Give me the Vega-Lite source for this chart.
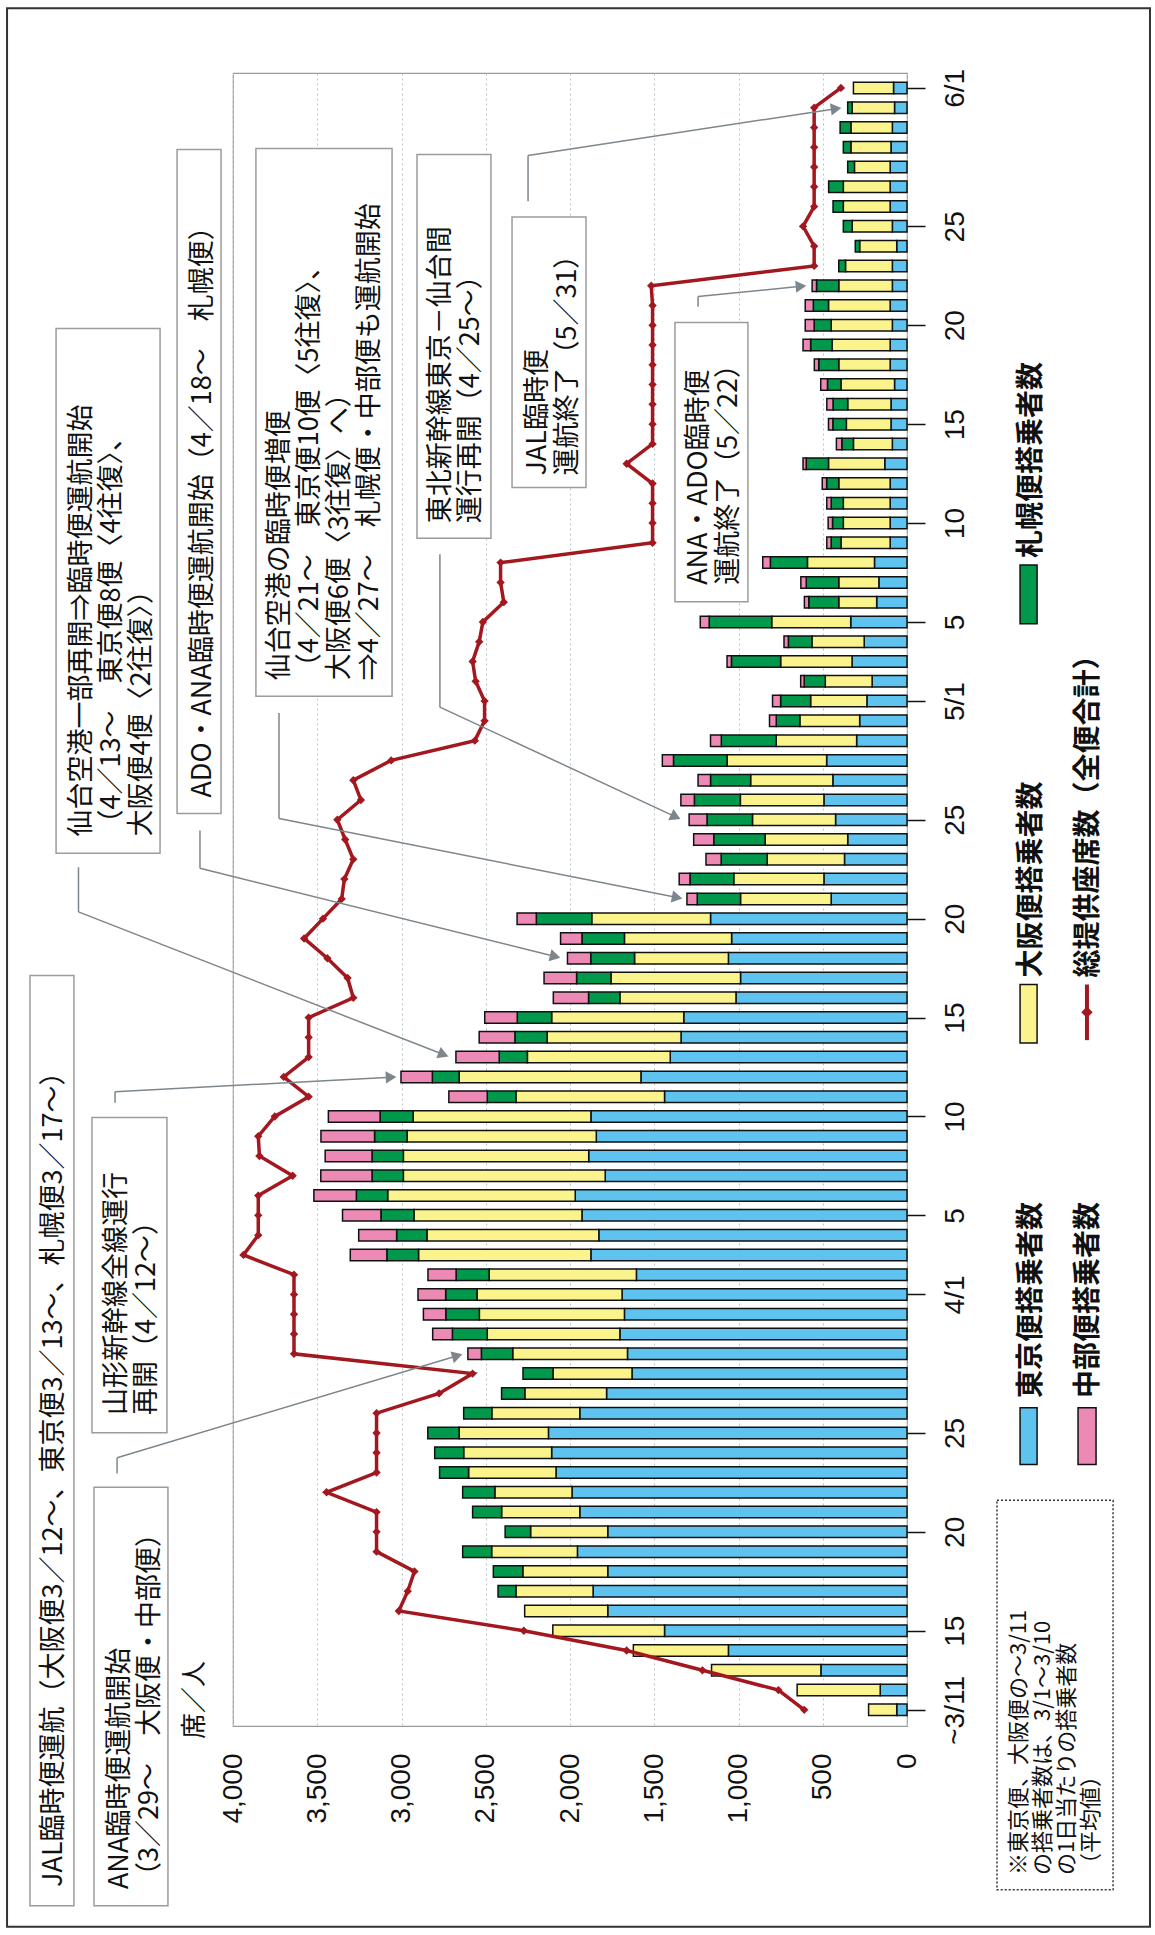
{
"$schema":"https://vega.github.io/schema/vega-lite/v6.json",
"width":674,"height":1653,"autosize":"none",
"padding":{"left":233,"top":73,"right":248,"bottom":209},
"background":"white",
"config":{"view":{"stroke":"#9a9a9a","strokeWidth":1.2}},
"resolve":{"axis":{"x":"independent","y":"independent"}},
"data":{"format":{"parse":{"date":"date:'%Y-%m-%d'"}},"values":[
{"date":"2011-03-11","tokyo":61,"osaka":167,"hokkaido":0,"chubu":0,"seats":610},
{"date":"2011-03-12","tokyo":159,"osaka":493,"hokkaido":0,"chubu":0,"seats":763},
{"date":"2011-03-13","tokyo":511,"osaka":649,"hokkaido":0,"chubu":0,"seats":1214},
{"date":"2011-03-14","tokyo":1060,"osaka":564,"hokkaido":0,"chubu":0,"seats":1664},
{"date":"2011-03-15","tokyo":1439,"osaka":663,"hokkaido":0,"chubu":0,"seats":2274},
{"date":"2011-03-16","tokyo":1776,"osaka":493,"hokkaido":0,"chubu":0,"seats":3016},
{"date":"2011-03-17","tokyo":1863,"osaka":458,"hokkaido":106,"chubu":0,"seats":2963},
{"date":"2011-03-18","tokyo":1776,"osaka":504,"hokkaido":175,"chubu":0,"seats":2923},
{"date":"2011-03-19","tokyo":1956,"osaka":509,"hokkaido":172,"chubu":0,"seats":3148},
{"date":"2011-03-20","tokyo":1776,"osaka":458,"hokkaido":151,"chubu":0,"seats":3148},
{"date":"2011-03-21","tokyo":1942,"osaka":464,"hokkaido":172,"chubu":0,"seats":3148},
{"date":"2011-03-22","tokyo":1988,"osaka":458,"hokkaido":191,"chubu":0,"seats":3445},
{"date":"2011-03-23","tokyo":2083,"osaka":519,"hokkaido":172,"chubu":0,"seats":3148},
{"date":"2011-03-24","tokyo":2109,"osaka":522,"hokkaido":172,"chubu":0,"seats":3148},
{"date":"2011-03-25","tokyo":2128,"osaka":530,"hokkaido":186,"chubu":0,"seats":3148},
{"date":"2011-03-26","tokyo":1942,"osaka":522,"hokkaido":167,"chubu":0,"seats":3148},
{"date":"2011-03-27","tokyo":1783,"osaka":485,"hokkaido":138,"chubu":0,"seats":2777},
{"date":"2011-03-28","tokyo":1632,"osaka":469,"hokkaido":178,"chubu":0,"seats":2578},
{"date":"2011-03-29","tokyo":1659,"osaka":681,"hokkaido":186,"chubu":80,"seats":3638},
{"date":"2011-03-30","tokyo":1704,"osaka":787,"hokkaido":207,"chubu":117,"seats":3638},
{"date":"2011-03-31","tokyo":1677,"osaka":861,"hokkaido":199,"chubu":133,"seats":3638},
{"date":"2011-04-01","tokyo":1691,"osaka":861,"hokkaido":186,"chubu":164,"seats":3638},
{"date":"2011-04-02","tokyo":1606,"osaka":874,"hokkaido":196,"chubu":167,"seats":3638},
{"date":"2011-04-03","tokyo":1876,"osaka":1023,"hokkaido":188,"chubu":217,"seats":3938},
{"date":"2011-04-04","tokyo":1829,"osaka":1020,"hokkaido":180,"chubu":225,"seats":3850},
{"date":"2011-04-05","tokyo":1929,"osaka":997,"hokkaido":196,"chubu":228,"seats":3850},
{"date":"2011-04-06","tokyo":1969,"osaka":1113,"hokkaido":186,"chubu":252,"seats":3850},
{"date":"2011-04-07","tokyo":1791,"osaka":1198,"hokkaido":186,"chubu":304,"seats":3646},
{"date":"2011-04-08","tokyo":1889,"osaka":1100,"hokkaido":186,"chubu":278,"seats":3843},
{"date":"2011-04-09","tokyo":1844,"osaka":1123,"hokkaido":193,"chubu":318,"seats":3850},
{"date":"2011-04-10","tokyo":1876,"osaka":1055,"hokkaido":196,"chubu":307,"seats":3752},
{"date":"2011-04-11","tokyo":1439,"osaka":882,"hokkaido":170,"chubu":228,"seats":3551},
{"date":"2011-04-12","tokyo":1579,"osaka":1079,"hokkaido":159,"chubu":186,"seats":3699},
{"date":"2011-04-13","tokyo":1405,"osaka":848,"hokkaido":167,"chubu":257,"seats":3551},
{"date":"2011-04-14","tokyo":1341,"osaka":795,"hokkaido":191,"chubu":212,"seats":3551},
{"date":"2011-04-15","tokyo":1325,"osaka":784,"hokkaido":204,"chubu":193,"seats":3551},
{"date":"2011-04-16","tokyo":1015,"osaka":689,"hokkaido":186,"chubu":209,"seats":3286},
{"date":"2011-04-17","tokyo":988,"osaka":769,"hokkaido":204,"chubu":193,"seats":3320},
{"date":"2011-04-18","tokyo":1060,"osaka":557,"hokkaido":260,"chubu":138,"seats":3440},
{"date":"2011-04-19","tokyo":1041,"osaka":636,"hokkaido":252,"chubu":127,"seats":3578},
{"date":"2011-04-20","tokyo":1166,"osaka":705,"hokkaido":329,"chubu":114,"seats":3466},
{"date":"2011-04-21","tokyo":450,"osaka":538,"hokkaido":257,"chubu":61,"seats":3355},
{"date":"2011-04-22","tokyo":493,"osaka":535,"hokkaido":260,"chubu":64,"seats":3339},
{"date":"2011-04-23","tokyo":371,"osaka":459,"hokkaido":273,"chubu":90,"seats":3286},
{"date":"2011-04-24","tokyo":352,"osaka":490,"hokkaido":305,"chubu":119,"seats":3334},
{"date":"2011-04-25","tokyo":424,"osaka":493,"hokkaido":270,"chubu":106,"seats":3381},
{"date":"2011-04-26","tokyo":493,"osaka":496,"hokkaido":273,"chubu":80,"seats":3241},
{"date":"2011-04-27","tokyo":440,"osaka":488,"hokkaido":238,"chubu":74,"seats":3286},
{"date":"2011-04-28","tokyo":477,"osaka":591,"hokkaido":318,"chubu":66,"seats":3061},
{"date":"2011-04-29","tokyo":299,"osaka":477,"hokkaido":326,"chubu":64,"seats":2565},
{"date":"2011-04-30","tokyo":281,"osaka":355,"hokkaido":140,"chubu":40,"seats":2507},
{"date":"2011-05-01","tokyo":238,"osaka":334,"hokkaido":178,"chubu":48,"seats":2507},
{"date":"2011-05-02","tokyo":207,"osaka":278,"hokkaido":125,"chubu":21,"seats":2560},
{"date":"2011-05-03","tokyo":326,"osaka":424,"hokkaido":292,"chubu":26,"seats":2578},
{"date":"2011-05-04","tokyo":254,"osaka":310,"hokkaido":140,"chubu":26,"seats":2539},
{"date":"2011-05-05","tokyo":334,"osaka":469,"hokkaido":371,"chubu":53,"seats":2517},
{"date":"2011-05-06","tokyo":180,"osaka":225,"hokkaido":178,"chubu":26,"seats":2393},
{"date":"2011-05-07","tokyo":167,"osaka":238,"hokkaido":193,"chubu":32,"seats":2412},
{"date":"2011-05-08","tokyo":193,"osaka":398,"hokkaido":220,"chubu":45,"seats":2412},
{"date":"2011-05-09","tokyo":100,"osaka":292,"hokkaido":58,"chubu":26,"seats":1510},
{"date":"2011-05-10","tokyo":100,"osaka":278,"hokkaido":64,"chubu":26,"seats":1510},
{"date":"2011-05-11","tokyo":100,"osaka":278,"hokkaido":72,"chubu":26,"seats":1510},
{"date":"2011-05-12","tokyo":100,"osaka":305,"hokkaido":72,"chubu":26,"seats":1510},
{"date":"2011-05-13","tokyo":132,"osaka":334,"hokkaido":132,"chubu":19,"seats":1664},
{"date":"2011-05-14","tokyo":87,"osaka":231,"hokkaido":69,"chubu":32,"seats":1510},
{"date":"2011-05-15","tokyo":95,"osaka":265,"hokkaido":80,"chubu":26,"seats":1510},
{"date":"2011-05-16","tokyo":95,"osaka":257,"hokkaido":87,"chubu":37,"seats":1510},
{"date":"2011-05-17","tokyo":74,"osaka":318,"hokkaido":80,"chubu":40,"seats":1510},
{"date":"2011-05-18","tokyo":100,"osaka":305,"hokkaido":119,"chubu":26,"seats":1510},
{"date":"2011-05-19","tokyo":100,"osaka":345,"hokkaido":127,"chubu":45,"seats":1510},
{"date":"2011-05-20","tokyo":87,"osaka":363,"hokkaido":101,"chubu":53,"seats":1510},
{"date":"2011-05-21","tokyo":100,"osaka":366,"hokkaido":90,"chubu":48,"seats":1510},
{"date":"2011-05-22","tokyo":87,"osaka":318,"hokkaido":132,"chubu":26,"seats":1518},
{"date":"2011-05-23","tokyo":87,"osaka":278,"hokkaido":40,"chubu":0,"seats":551},
{"date":"2011-05-24","tokyo":61,"osaka":220,"hokkaido":26,"chubu":0,"seats":551},
{"date":"2011-05-25","tokyo":87,"osaka":238,"hokkaido":53,"chubu":0,"seats":617},
{"date":"2011-05-26","tokyo":100,"osaka":278,"hokkaido":61,"chubu":0,"seats":551},
{"date":"2011-05-27","tokyo":100,"osaka":278,"hokkaido":87,"chubu":0,"seats":551},
{"date":"2011-05-28","tokyo":100,"osaka":212,"hokkaido":40,"chubu":0,"seats":551},
{"date":"2011-05-29","tokyo":95,"osaka":238,"hokkaido":45,"chubu":0,"seats":551},
{"date":"2011-05-30","tokyo":87,"osaka":246,"hokkaido":64,"chubu":0,"seats":551},
{"date":"2011-05-31","tokyo":74,"osaka":252,"hokkaido":26,"chubu":0,"seats":551},
{"date":"2011-06-01","tokyo":80,"osaka":238,"hokkaido":0,"chubu":0,"seats":392}
]},
"layer":[
{"transform":[{"fold":["tokyo","osaka","hokkaido","chubu"],"as":["route","passengers"]},{"filter":"datum.passengers > 0"}],
 "mark":{"type":"bar","orient":"horizontal","height":11.5,"stroke":"#111111","strokeWidth":1.5},
 "encoding":{
  "y":{"field":"date","type":"temporal","title":null,
   "scale":{"domain":[{"year":2011,"month":3,"date":10,"hours":10,"minutes":30},{"year":2011,"month":6,"date":1,"hours":12}],"nice":false},
   "axis":{"orient":"right","title":null,"grid":false,"domain":false,
    "values":[{"year":2011,"month":3,"date":11},{"year":2011,"month":3,"date":15},{"year":2011,"month":3,"date":20},{"year":2011,"month":3,"date":25},{"year":2011,"month":4,"date":1},{"year":2011,"month":4,"date":5},{"year":2011,"month":4,"date":10},{"year":2011,"month":4,"date":15},{"year":2011,"month":4,"date":20},{"year":2011,"month":4,"date":25},{"year":2011,"month":5,"date":1},{"year":2011,"month":5,"date":5},{"year":2011,"month":5,"date":10},{"year":2011,"month":5,"date":15},{"year":2011,"month":5,"date":20},{"year":2011,"month":5,"date":25},{"year":2011,"month":6,"date":1}],
    "labelExpr":"month(datum.value)==2 && date(datum.value)==11 ? '~3/11' : (date(datum.value)==1 ? (month(datum.value)+1)+'/1' : ''+date(datum.value))",
    "labelAngle":270,"labelAlign":"center","labelBaseline":"top","labelFont":"Liberation Sans","labelFontSize":28,"labelColor":"#111111","labelPadding":16,
    "ticks":true,"tickSize":18,"tickColor":"#111111","tickWidth":1.5,"labelOverlap":false,"labelBound":false,"labelFlush":false}},
  "x":{"field":"passengers","type":"quantitative","title":null,"stack":"zero",
   "scale":{"domain":[0,4000],"reverse":true,"nice":false,"zero":true},
   "axis":{"title":null,"values":[0,500,1000,1500,2000,2500,3000,3500,4000],"format":",d","labelAngle":270,"labelAlign":"right","labelBaseline":"middle","labelFont":"Liberation Sans","labelFontSize":28,"labelColor":"#111111","labelPadding":27,"ticks":false,"tickSize":0,"domain":false,"grid":true,"gridColor":"#b8c4cc","gridDash":[2,3],"gridWidth":1,"labelFlush":false,"labelOverlap":false,"labelBound":false}},
  "color":{"field":"route","type":"nominal","scale":{"domain":["tokyo","osaka","hokkaido","chubu"],"range":["#5ec3ef","#fbf48c","#00984a","#ec8ab5"]},"legend":null},
  "order":{"field":"route","sort":"descending"}
 }},
{"mark":{"type":"line","color":"#a3171f","strokeWidth":3.5,"point":{"shape":"diamond","size":70,"filled":true,"color":"#a3171f"}},
 "encoding":{"y":{"field":"date","type":"temporal","axis":null},"x":{"field":"seats","type":"quantitative","axis":null},"order":{"field":"date","type":"temporal"}}},

{"data":{"values":[{}]},"mark":{"type":"rect","fill":"white","fillOpacity":0,"stroke":"#333333","strokeWidth":2},"encoding":{"x":{"datum":5341,"type":"quantitative","axis":null},"x2":{"datum":-1442},"y":{"datum":{"year":2011,"month":6,"date":5,"hours":0,"minutes":29},"type":"temporal","axis":null},"y2":{"datum":{"year":2011,"month":2,"date":28,"hours":0,"minutes":58}}}},

{"data":{"values":[{}]},"mark":{"type":"rect","fill":"white","stroke":"#9c9c9c","strokeWidth":1.5},"encoding":{"x":{"datum":5050,"type":"quantitative","axis":null},"x2":{"datum":4433},"y":{"datum":{"year":2011,"month":5,"date":19,"hours":20,"minutes":12},"type":"temporal","axis":null},"y2":{"datum":{"year":2011,"month":4,"date":23,"hours":7,"minutes":24}}}},
{"data":{"values":[{}]},"mark":{"type":"rect","fill":"white","stroke":"#9c9c9c","strokeWidth":1.5},"encoding":{"x":{"datum":4332,"type":"quantitative","axis":null},"x2":{"datum":4071},"y":{"datum":{"year":2011,"month":5,"date":28,"hours":21,"minutes":12},"type":"temporal","axis":null},"y2":{"datum":{"year":2011,"month":4,"date":25,"hours":7,"minutes":36}}}},
{"data":{"values":[{}]},"mark":{"type":"rect","fill":"white","stroke":"#9c9c9c","strokeWidth":1.5},"encoding":{"x":{"datum":3864,"type":"quantitative","axis":null},"x2":{"datum":3056},"y":{"datum":{"year":2011,"month":5,"date":28,"hours":22,"minutes":24},"type":"temporal","axis":null},"y2":{"datum":{"year":2011,"month":5,"date":1,"hours":6,"minutes":0}}}},
{"data":{"values":[{}]},"mark":{"type":"rect","fill":"white","stroke":"#9c9c9c","strokeWidth":1.5},"encoding":{"x":{"datum":2908,"type":"quantitative","axis":null},"x2":{"datum":2469},"y":{"datum":{"year":2011,"month":5,"date":28,"hours":15,"minutes":12},"type":"temporal","axis":null},"y2":{"datum":{"year":2011,"month":5,"date":9,"hours":5,"minutes":42}}}},
{"data":{"values":[{}]},"mark":{"type":"rect","fill":"white","stroke":"#9c9c9c","strokeWidth":1.5},"encoding":{"x":{"datum":2344,"type":"quantitative","axis":null},"x2":{"datum":1905},"y":{"datum":{"year":2011,"month":5,"date":25,"hours":11,"minutes":12},"type":"temporal","axis":null},"y2":{"datum":{"year":2011,"month":5,"date":11,"hours":19,"minutes":12}}}},
{"data":{"values":[{}]},"mark":{"type":"rect","fill":"white","stroke":"#9c9c9c","strokeWidth":1.5},"encoding":{"x":{"datum":1377,"type":"quantitative","axis":null},"x2":{"datum":944},"y":{"datum":{"year":2011,"month":5,"date":20,"hours":3,"minutes":24},"type":"temporal","axis":null},"y2":{"datum":{"year":2011,"month":5,"date":6,"hours":0,"minutes":30}}}},
{"data":{"values":[{}]},"mark":{"type":"rect","fill":"white","stroke":"#9c9c9c","strokeWidth":1.5},"encoding":{"x":{"datum":5205,"type":"quantitative","axis":null},"x2":{"datum":4944},"y":{"datum":{"year":2011,"month":4,"date":17,"hours":3,"minutes":6},"type":"temporal","axis":null},"y2":{"datum":{"year":2011,"month":3,"date":1,"hours":2,"minutes":12}}}},
{"data":{"values":[{}]},"mark":{"type":"rect","fill":"white","stroke":"#9c9c9c","strokeWidth":1.5},"encoding":{"x":{"datum":4837,"type":"quantitative","axis":null},"x2":{"datum":4392},"y":{"datum":{"year":2011,"month":4,"date":9,"hours":22,"minutes":36},"type":"temporal","axis":null},"y2":{"datum":{"year":2011,"month":3,"date":25,"hours":0,"minutes":12}}}},
{"data":{"values":[{}]},"mark":{"type":"rect","fill":"white","stroke":"#9c9c9c","strokeWidth":1.5},"encoding":{"x":{"datum":4825,"type":"quantitative","axis":null},"x2":{"datum":4386},"y":{"datum":{"year":2011,"month":3,"date":22,"hours":6,"minutes":0},"type":"temporal","axis":null},"y2":{"datum":{"year":2011,"month":3,"date":1,"hours":2,"minutes":12}}}},
{"data":{"values":[{}]},"mark":{"type":"rect","fill":"white","fillOpacity":0,"stroke":"#333333","strokeWidth":1.5,"strokeDash":[2,2]},"encoding":{"x":{"datum":-534,"type":"quantitative","axis":null},"x2":{"datum":-1223},"y":{"datum":{"year":2011,"month":3,"date":21,"hours":14,"minutes":12},"type":"temporal","axis":null},"y2":{"datum":{"year":2011,"month":3,"date":1,"hours":21,"minutes":36}}}},

{"data":{"values":[{}]},"mark":{"type":"text","angle":270,"align":"left","baseline":"top","font":"Noto Sans CJK JP","fontSize":27,"lineHeight":30,"color":"#111111"},"encoding":{"x":{"datum":4974,"type":"quantitative","axis":null},"y":{"datum":{"year":2011,"month":4,"date":24,"hours":3,"minutes":48},"type":"temporal","axis":null},"text":{"value":["仙台空港一部再開⇒臨時便運航開始","（4／13〜　東京便8便〈4往復〉、","　大阪便4便〈2往復〉）"]}}},
{"data":{"values":[{}]},"mark":{"type":"text","angle":270,"align":"left","baseline":"middle","font":"Noto Sans CJK JP","fontSize":27,"color":"#111111"},"encoding":{"x":{"datum":4177,"type":"quantitative","axis":null},"y":{"datum":{"year":2011,"month":4,"date":26,"hours":2,"minutes":54},"type":"temporal","axis":null},"text":{"value":"ADO・ANA臨時便運航開始（4／18〜　札幌便）"}}},
{"data":{"values":[{}]},"mark":{"type":"text","angle":270,"align":"left","baseline":"top","font":"Noto Sans CJK JP","fontSize":27,"lineHeight":30,"color":"#111111"},"encoding":{"x":{"datum":3799,"type":"quantitative","axis":null},"y":{"datum":{"year":2011,"month":5,"date":2,"hours":1,"minutes":12},"type":"temporal","axis":null},"text":{"value":["仙台空港の臨時便増便","（4／21〜　東京便10便〈5往復〉、","大阪便6便〈3往復〉へ）","⇒4／27〜　札幌便・中部便も運航開始"]}}},
{"data":{"values":[{}]},"mark":{"type":"text","angle":270,"align":"left","baseline":"top","font":"Noto Sans CJK JP","fontSize":27,"lineHeight":30,"color":"#111111"},"encoding":{"x":{"datum":2843,"type":"quantitative","axis":null},"y":{"datum":{"year":2011,"month":5,"date":9,"hours":23,"minutes":46},"type":"temporal","axis":null},"text":{"value":["東北新幹線東京－仙台間","運行再開（4／25〜）"]}}},
{"data":{"values":[{}]},"mark":{"type":"text","angle":270,"align":"left","baseline":"top","font":"Noto Sans CJK JP","fontSize":27,"lineHeight":30,"color":"#111111"},"encoding":{"x":{"datum":2267,"type":"quantitative","axis":null},"y":{"datum":{"year":2011,"month":5,"date":12,"hours":9,"minutes":36},"type":"temporal","axis":null},"text":{"value":["JAL臨時便","運航終了（5／31）"]}}},
{"data":{"values":[{}]},"mark":{"type":"text","angle":270,"align":"left","baseline":"top","font":"Noto Sans CJK JP","fontSize":27,"lineHeight":30,"color":"#111111"},"encoding":{"x":{"datum":1312,"type":"quantitative","axis":null},"y":{"datum":{"year":2011,"month":5,"date":6,"hours":21,"minutes":0},"type":"temporal","axis":null},"text":{"value":["ANA・ADO臨時便","運航終了（5／22）"]}}},
{"data":{"values":[{}]},"mark":{"type":"text","angle":270,"align":"left","baseline":"middle","font":"Noto Sans CJK JP","fontSize":27,"color":"#111111"},"encoding":{"x":{"datum":5062,"type":"quantitative","axis":null},"y":{"datum":{"year":2011,"month":3,"date":2,"hours":1,"minutes":12},"type":"temporal","axis":null},"text":{"value":"JAL臨時便運航（大阪便3／12〜、東京便3／13〜、札幌便3／17〜）"}}},
{"data":{"values":[{}]},"mark":{"type":"text","angle":270,"align":"left","baseline":"top","font":"Noto Sans CJK JP","fontSize":27,"lineHeight":30,"color":"#111111"},"encoding":{"x":{"datum":4766,"type":"quantitative","axis":null},"y":{"datum":{"year":2011,"month":3,"date":25,"hours":21,"minutes":48},"type":"temporal","axis":null},"text":{"value":["山形新幹線全線運行","再開（4／12〜）"]}}},
{"data":{"values":[{}]},"mark":{"type":"text","angle":270,"align":"left","baseline":"top","font":"Noto Sans CJK JP","fontSize":27,"lineHeight":30,"color":"#111111"},"encoding":{"x":{"datum":4748,"type":"quantitative","axis":null},"y":{"datum":{"year":2011,"month":3,"date":1,"hours":22,"minutes":36},"type":"temporal","axis":null},"text":{"value":["ANA臨時便運航開始","（3／29〜　大阪便・中部便）"]}}},
{"data":{"values":[{}]},"mark":{"type":"text","angle":270,"align":"left","baseline":"top","font":"Noto Sans CJK JP","fontSize":22,"lineHeight":24,"color":"#111111"},"encoding":{"x":{"datum":-605,"type":"quantitative","axis":null},"y":{"datum":{"year":2011,"month":3,"date":2,"hours":15,"minutes":36},"type":"temporal","axis":null},"text":{"value":["※東京便、大阪便の〜3/11","　の搭乗者数は、3/1〜3/10","　の1日当たりの搭乗者数","　（平均値）"]}}},
{"data":{"values":[{}]},"mark":{"type":"text","angle":270,"align":"left","baseline":"middle","font":"Noto Sans CJK JP","fontSize":26,"color":"#111111"},"encoding":{"x":{"datum":4226,"type":"quantitative","axis":null},"y":{"datum":{"year":2011,"month":3,"date":9,"hours":12,"minutes":42},"type":"temporal","axis":null},"text":{"value":"席／人"}}},

{"data":{"values":[{}]},"mark":{"type":"rect","fill":"#5ec3ef","stroke":"#111111","strokeWidth":1.5},"encoding":{"x":{"datum":-671,"type":"quantitative","axis":null},"x2":{"datum":-772},"y":{"datum":{"year":2011,"month":3,"date":26,"hours":6,"minutes":30},"type":"temporal","axis":null},"y2":{"datum":{"year":2011,"month":3,"date":23,"hours":9,"minutes":36}}}},
{"data":{"values":[{}]},"mark":{"type":"rect","fill":"#ec8ab5","stroke":"#111111","strokeWidth":1.5},"encoding":{"x":{"datum":-1015,"type":"quantitative","axis":null},"x2":{"datum":-1122},"y":{"datum":{"year":2011,"month":3,"date":26,"hours":6,"minutes":30},"type":"temporal","axis":null},"y2":{"datum":{"year":2011,"month":3,"date":23,"hours":9,"minutes":36}}}},
{"data":{"values":[{}]},"mark":{"type":"rect","fill":"#fbf48c","stroke":"#111111","strokeWidth":1.5},"encoding":{"x":{"datum":-671,"type":"quantitative","axis":null},"x2":{"datum":-772},"y":{"datum":{"year":2011,"month":4,"date":16,"hours":16,"minutes":6},"type":"temporal","axis":null},"y2":{"datum":{"year":2011,"month":4,"date":13,"hours":17,"minutes":0}}}},
{"data":{"values":[{}]},"mark":{"type":"rect","fill":"#00984a","stroke":"#111111","strokeWidth":1.5},"encoding":{"x":{"datum":-671,"type":"quantitative","axis":null},"x2":{"datum":-772},"y":{"datum":{"year":2011,"month":5,"date":7,"hours":21,"minutes":6},"type":"temporal","axis":null},"y2":{"datum":{"year":2011,"month":5,"date":4,"hours":21,"minutes":48}}}},
{"data":{"values":[{}]},"mark":{"type":"rule","color":"#a3171f","strokeWidth":4},"encoding":{"x":{"datum":-1068,"type":"quantitative","axis":null},"y":{"datum":{"year":2011,"month":4,"date":16,"hours":16,"minutes":6},"type":"temporal","axis":null},"y2":{"datum":{"year":2011,"month":4,"date":13,"hours":20,"minutes":36}}}},
{"data":{"values":[{}]},"mark":{"type":"point","shape":"diamond","filled":true,"color":"#a3171f","size":130,"opacity":1},"encoding":{"x":{"datum":-1068,"type":"quantitative","axis":null},"y":{"datum":{"year":2011,"month":4,"date":15,"hours":6,"minutes":30},"type":"temporal","axis":null}}},
{"data":{"values":[{}]},"mark":{"type":"text","angle":270,"align":"left","baseline":"middle","font":"Noto Sans CJK JP","fontSize":28,"fontWeight":"bold","color":"#111111"},"encoding":{"x":{"datum":-742,"type":"quantitative","axis":null},"y":{"datum":{"year":2011,"month":3,"date":26,"hours":18,"minutes":30},"type":"temporal","axis":null},"text":{"value":"東京便搭乗者数"}}},
{"data":{"values":[{}]},"mark":{"type":"text","angle":270,"align":"left","baseline":"middle","font":"Noto Sans CJK JP","fontSize":28,"fontWeight":"bold","color":"#111111"},"encoding":{"x":{"datum":-1080,"type":"quantitative","axis":null},"y":{"datum":{"year":2011,"month":3,"date":26,"hours":18,"minutes":30},"type":"temporal","axis":null},"text":{"value":"中部便搭乗者数"}}},
{"data":{"values":[{}]},"mark":{"type":"text","angle":270,"align":"left","baseline":"middle","font":"Noto Sans CJK JP","fontSize":28,"fontWeight":"bold","color":"#111111"},"encoding":{"x":{"datum":-742,"type":"quantitative","axis":null},"y":{"datum":{"year":2011,"month":4,"date":17,"hours":0,"minutes":42},"type":"temporal","axis":null},"text":{"value":"大阪便搭乗者数"}}},
{"data":{"values":[{}]},"mark":{"type":"text","angle":270,"align":"left","baseline":"middle","font":"Noto Sans CJK JP","fontSize":28,"fontWeight":"bold","color":"#111111"},"encoding":{"x":{"datum":-1080,"type":"quantitative","axis":null},"y":{"datum":{"year":2011,"month":4,"date":17,"hours":0,"minutes":42},"type":"temporal","axis":null},"text":{"value":"総提供座席数（全便合計）"}}},
{"data":{"values":[{}]},"mark":{"type":"text","angle":270,"align":"left","baseline":"middle","font":"Noto Sans CJK JP","fontSize":28,"fontWeight":"bold","color":"#111111"},"encoding":{"x":{"datum":-742,"type":"quantitative","axis":null},"y":{"datum":{"year":2011,"month":5,"date":8,"hours":5,"minutes":30},"type":"temporal","axis":null},"text":{"value":"札幌便搭乗者数"}}},

{"data":{"values":[{}]},"mark":{"type":"rule","color":"#7d868c","strokeWidth":1.5},"encoding":{"x":{"datum":4917,"type":"quantitative","axis":null},"y":{"datum":{"year":2011,"month":4,"date":22,"hours":14,"minutes":24},"type":"temporal","axis":null},"y2":{"datum":{"year":2011,"month":4,"date":20,"hours":8,"minutes":12}}}},
{"data":{"values":[{}]},"mark":{"type":"rule","color":"#7d868c","strokeWidth":1.5},"encoding":{"x":{"datum":4917,"type":"quantitative","axis":null},"x2":{"datum":2751},"y":{"datum":{"year":2011,"month":4,"date":20,"hours":8,"minutes":12},"type":"temporal","axis":null},"y2":{"datum":{"year":2011,"month":4,"date":13,"hours":3,"minutes":10}}}},
{"data":{"values":[{}]},"mark":{"type":"point","shape":"triangle-right","angle":21,"filled":true,"color":"#7d868c","size":150,"opacity":1},"encoding":{"x":{"datum":2751,"type":"quantitative","axis":null},"y":{"datum":{"year":2011,"month":4,"date":13,"hours":3,"minutes":10},"type":"temporal","axis":null}}},

{"data":{"values":[{}]},"mark":{"type":"rule","color":"#7d868c","strokeWidth":1.5},"encoding":{"x":{"datum":4196,"type":"quantitative","axis":null},"y":{"datum":{"year":2011,"month":4,"date":24,"hours":11,"minutes":5},"type":"temporal","axis":null},"y2":{"datum":{"year":2011,"month":4,"date":22,"hours":13,"minutes":12}}}},
{"data":{"values":[{}]},"mark":{"type":"rule","color":"#7d868c","strokeWidth":1.5},"encoding":{"x":{"datum":4196,"type":"quantitative","axis":null},"x2":{"datum":2088},"y":{"datum":{"year":2011,"month":4,"date":22,"hours":13,"minutes":12},"type":"temporal","axis":null},"y2":{"datum":{"year":2011,"month":4,"date":18,"hours":2,"minutes":0}}}},
{"data":{"values":[{}]},"mark":{"type":"point","shape":"triangle-right","angle":14,"filled":true,"color":"#7d868c","size":150,"opacity":1},"encoding":{"x":{"datum":2088,"type":"quantitative","axis":null},"y":{"datum":{"year":2011,"month":4,"date":18,"hours":2,"minutes":0},"type":"temporal","axis":null}}},

{"data":{"values":[{}]},"mark":{"type":"rule","color":"#7d868c","strokeWidth":1.5},"encoding":{"x":{"datum":3727,"type":"quantitative","axis":null},"y":{"datum":{"year":2011,"month":4,"date":30,"hours":9,"minutes":24},"type":"temporal","axis":null},"y2":{"datum":{"year":2011,"month":4,"date":25,"hours":1,"minutes":36}}}},
{"data":{"values":[{}]},"mark":{"type":"rule","color":"#7d868c","strokeWidth":1.5},"encoding":{"x":{"datum":3727,"type":"quantitative","axis":null},"x2":{"datum":1364},"y":{"datum":{"year":2011,"month":4,"date":25,"hours":1,"minutes":36},"type":"temporal","axis":null},"y2":{"datum":{"year":2011,"month":4,"date":21,"hours":1,"minutes":41}}}},
{"data":{"values":[{}]},"mark":{"type":"point","shape":"triangle-right","angle":11,"filled":true,"color":"#7d868c","size":150,"opacity":1},"encoding":{"x":{"datum":1364,"type":"quantitative","axis":null},"y":{"datum":{"year":2011,"month":4,"date":21,"hours":1,"minutes":41},"type":"temporal","axis":null}}},

{"data":{"values":[{}]},"mark":{"type":"rule","color":"#7d868c","strokeWidth":1.5},"encoding":{"x":{"datum":2772,"type":"quantitative","axis":null},"y":{"datum":{"year":2011,"month":5,"date":8,"hours":10,"minutes":18},"type":"temporal","axis":null},"y2":{"datum":{"year":2011,"month":4,"date":30,"hours":16,"minutes":36}}}},
{"data":{"values":[{}]},"mark":{"type":"rule","color":"#7d868c","strokeWidth":1.5},"encoding":{"x":{"datum":2772,"type":"quantitative","axis":null},"x2":{"datum":1373},"y":{"datum":{"year":2011,"month":4,"date":30,"hours":16,"minutes":36},"type":"temporal","axis":null},"y2":{"datum":{"year":2011,"month":4,"date":25,"hours":3,"minutes":30}}}},
{"data":{"values":[{}]},"mark":{"type":"point","shape":"triangle-right","angle":25,"filled":true,"color":"#7d868c","size":150,"opacity":1},"encoding":{"x":{"datum":1373,"type":"quantitative","axis":null},"y":{"datum":{"year":2011,"month":4,"date":25,"hours":3,"minutes":30},"type":"temporal","axis":null}}},

{"data":{"values":[{}]},"mark":{"type":"rule","color":"#7d868c","strokeWidth":1.5},"encoding":{"x":{"datum":2249,"type":"quantitative","axis":null},"y":{"datum":{"year":2011,"month":5,"date":26,"hours":6,"minutes":30},"type":"temporal","axis":null},"y2":{"datum":{"year":2011,"month":5,"date":28,"hours":14,"minutes":0}}}},
{"data":{"values":[{}]},"mark":{"type":"rule","color":"#7d868c","strokeWidth":1.5},"encoding":{"x":{"datum":2249,"type":"quantitative","axis":null},"x2":{"datum":421},"y":{"datum":{"year":2011,"month":5,"date":28,"hours":14,"minutes":0},"type":"temporal","axis":null},"y2":{"datum":{"year":2011,"month":5,"date":30,"hours":22,"minutes":48}}}},
{"data":{"values":[{}]},"mark":{"type":"point","shape":"triangle-right","angle":-8,"filled":true,"color":"#7d868c","size":150,"opacity":1},"encoding":{"x":{"datum":421,"type":"quantitative","axis":null},"y":{"datum":{"year":2011,"month":5,"date":30,"hours":22,"minutes":48},"type":"temporal","axis":null}}},

{"data":{"values":[{}]},"mark":{"type":"rule","color":"#7d868c","strokeWidth":1.5},"encoding":{"x":{"datum":1240,"type":"quantitative","axis":null},"y":{"datum":{"year":2011,"month":5,"date":20,"hours":22,"minutes":36},"type":"temporal","axis":null},"y2":{"datum":{"year":2011,"month":5,"date":21,"hours":10,"minutes":48}}}},
{"data":{"values":[{}]},"mark":{"type":"rule","color":"#7d868c","strokeWidth":1.5},"encoding":{"x":{"datum":1240,"type":"quantitative","axis":null},"x2":{"datum":629},"y":{"datum":{"year":2011,"month":5,"date":21,"hours":10,"minutes":48},"type":"temporal","axis":null},"y2":{"datum":{"year":2011,"month":5,"date":21,"hours":23,"minutes":17}}}},
{"data":{"values":[{}]},"mark":{"type":"point","shape":"triangle-right","angle":-5,"filled":true,"color":"#7d868c","size":150,"opacity":1},"encoding":{"x":{"datum":629,"type":"quantitative","axis":null},"y":{"datum":{"year":2011,"month":5,"date":21,"hours":23,"minutes":17},"type":"temporal","axis":null}}},

{"data":{"values":[{}]},"mark":{"type":"rule","color":"#7d868c","strokeWidth":1.5},"encoding":{"x":{"datum":4700,"type":"quantitative","axis":null},"y":{"datum":{"year":2011,"month":4,"date":10,"hours":16,"minutes":36},"type":"temporal","axis":null},"y2":{"datum":{"year":2011,"month":4,"date":11,"hours":6,"minutes":0}}}},
{"data":{"values":[{}]},"mark":{"type":"rule","color":"#7d868c","strokeWidth":1.5},"encoding":{"x":{"datum":4700,"type":"quantitative","axis":null},"x2":{"datum":3062},"y":{"datum":{"year":2011,"month":4,"date":11,"hours":6,"minutes":0},"type":"temporal","axis":null},"y2":{"datum":{"year":2011,"month":4,"date":11,"hours":23,"minutes":38}}}},
{"data":{"values":[{}]},"mark":{"type":"point","shape":"triangle-right","angle":-3,"filled":true,"color":"#7d868c","size":150,"opacity":1},"encoding":{"x":{"datum":3062,"type":"quantitative","axis":null},"y":{"datum":{"year":2011,"month":4,"date":11,"hours":23,"minutes":38},"type":"temporal","axis":null}}},

{"data":{"values":[{}]},"mark":{"type":"rule","color":"#7d868c","strokeWidth":1.5},"encoding":{"x":{"datum":4688,"type":"quantitative","axis":null},"y":{"datum":{"year":2011,"month":3,"date":22,"hours":22,"minutes":48},"type":"temporal","axis":null},"y2":{"datum":{"year":2011,"month":3,"date":23,"hours":18,"minutes":0}}}},
{"data":{"values":[{}]},"mark":{"type":"rule","color":"#7d868c","strokeWidth":1.5},"encoding":{"x":{"datum":4688,"type":"quantitative","axis":null},"x2":{"datum":2669},"y":{"datum":{"year":2011,"month":3,"date":23,"hours":18,"minutes":0},"type":"temporal","axis":null},"y2":{"datum":{"year":2011,"month":3,"date":28,"hours":21,"minutes":36}}}},
{"data":{"values":[{}]},"mark":{"type":"point","shape":"triangle-right","angle":-16,"filled":true,"color":"#7d868c","size":150,"opacity":1},"encoding":{"x":{"datum":2669,"type":"quantitative","axis":null},"y":{"datum":{"year":2011,"month":3,"date":28,"hours":21,"minutes":36},"type":"temporal","axis":null}}}
]
}
